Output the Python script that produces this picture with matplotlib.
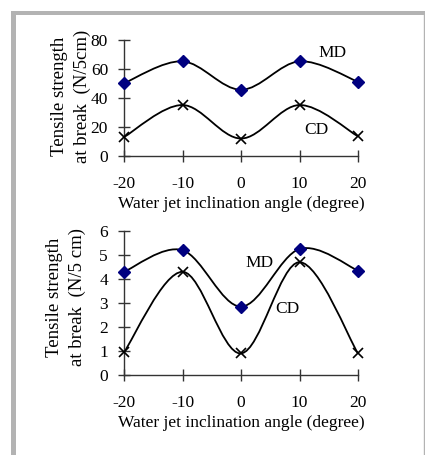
import matplotlib
matplotlib.use("Agg")
import matplotlib.pyplot as plt
from matplotlib.path import Path
from matplotlib.patches import PathPatch, Rectangle
from matplotlib.lines import Line2D

angles = [-20, -10, 0, 10, 20]
md_top = [50, 65, 45.5, 65, 51]
cd_top = [13, 35, 12, 35, 13.5]
md_bot = [4.3, 5.2, 2.85, 5.25, 4.35]
cd_bot = [0.95, 4.3, 0.9, 4.7, 0.9]
xticks = [-20, -10, 0, 10, 20]
yticks_top = [0, 20, 40, 60, 80]
yticks_bot = [0, 1, 2, 3, 4, 5, 6]
xlabel = "Water jet inclination angle (degree)"
ylabel_top = "Tensile strength\nat break  (N/5cm)"
ylabel_bot = "Tensile strength\nat break  (N/5 cm)"

plt.rcParams['font.family'] = ['Liberation Serif', 'DejaVu Serif']
plt.rcParams['axes.unicode_minus'] = False
FS = 12.5

fig = plt.figure(figsize=(4.25, 4.55), dpi=100)

# frame
fig.patches.append(Rectangle((11/425, 0), 5/425, 1 - 11/455, transform=fig.transFigure,
                             facecolor='#b3b3b3', edgecolor='none'))
fig.patches.append(Rectangle((11/425, 1 - 15/455), 1, 4/455, transform=fig.transFigure,
                             facecolor='#b3b3b3', edgecolor='none'))
fig.lines.append(Line2D([423.5/425, 423.5/425], [0, 1 - 15/455], transform=fig.transFigure,
                        color='#b3b3b3', lw=1))


def smooth_path(xs, ys):
    pts = list(zip(xs, ys))
    n = len(pts)
    verts = [pts[0]]
    codes = [Path.MOVETO]
    for i in range(n - 1):
        p0 = pts[i - 1] if i > 0 else pts[i]
        p1 = pts[i]
        p2 = pts[i + 1]
        p3 = pts[i + 2] if i + 2 < n else pts[i + 1]
        c1 = (p1[0] + (p2[0] - p0[0]) / 6, p1[1] + (p2[1] - p0[1]) / 6)
        c2 = (p2[0] - (p3[0] - p1[0]) / 6, p2[1] - (p3[1] - p1[1]) / 6)
        verts += [c1, c2, p2]
        codes += [Path.CURVE4] * 3
    return Path(verts, codes)


def panel(rect, md, cd, ylim, yticks, ylabel, ylab_pos, md_pos, cd_pos):
    ax = fig.add_axes(rect)
    for ys in (md, cd):
        ax.add_patch(PathPatch(smooth_path(angles, ys), facecolor='none',
                               edgecolor='black', lw=1.3, clip_on=False))
    ax.plot(angles, md, linestyle='none', marker='D', color='#000080', ms=6, clip_on=False, zorder=5)
    ax.plot(angles, cd, linestyle='none', marker='x', color='black', ms=7, mew=1.2, clip_on=False, zorder=5)
    ax.set_xlim(-20, 20)
    ax.set_ylim(*ylim)
    ax.set_xticks(xticks)
    ax.set_yticks(yticks)
    for s in ('top', 'right'):
        ax.spines[s].set_visible(False)
    for s in ('left', 'bottom'):
        ax.spines[s].set_color('#333333')
        ax.spines[s].set_linewidth(1)
    ax.tick_params(direction='inout', length=9, width=1, color='#333333', labelsize=FS)
    ax.tick_params(axis='x', pad=10)
    ax.tick_params(axis='y', pad=7)
    ax.set_xlabel(xlabel, fontsize=FS, labelpad=2.5)
    ax.text(ylab_pos[0], ylab_pos[1], ylabel, transform=ax.transAxes, rotation=90,
            ha='center', va='center', multialignment='center', fontsize=13.5, linespacing=1.45)
    ax.text(md_pos[0], md_pos[1], "MD", fontsize=FS, ha='center', va='center')
    ax.text(cd_pos[0], cd_pos[1], "CD", fontsize=FS, ha='center', va='center')
    ax.patch.set_alpha(0)
    return ax


panel([124/425, 1 - 156/455, 234/425, 116.5/455], md_top, cd_top, (0, 80), yticks_top,
      ylabel_top, (-0.226, 0.515), (15.7, 70.7), (12.8, 17.9))
panel([124/425, 1 - 375/455, 234/425, 144/455], md_bot, cd_bot, (0, 6), yticks_bot,
      ylabel_bot, (-0.247, 0.54), (3.1, 4.65), (7.9, 2.74))

fig.savefig("out.png", dpi=100)
